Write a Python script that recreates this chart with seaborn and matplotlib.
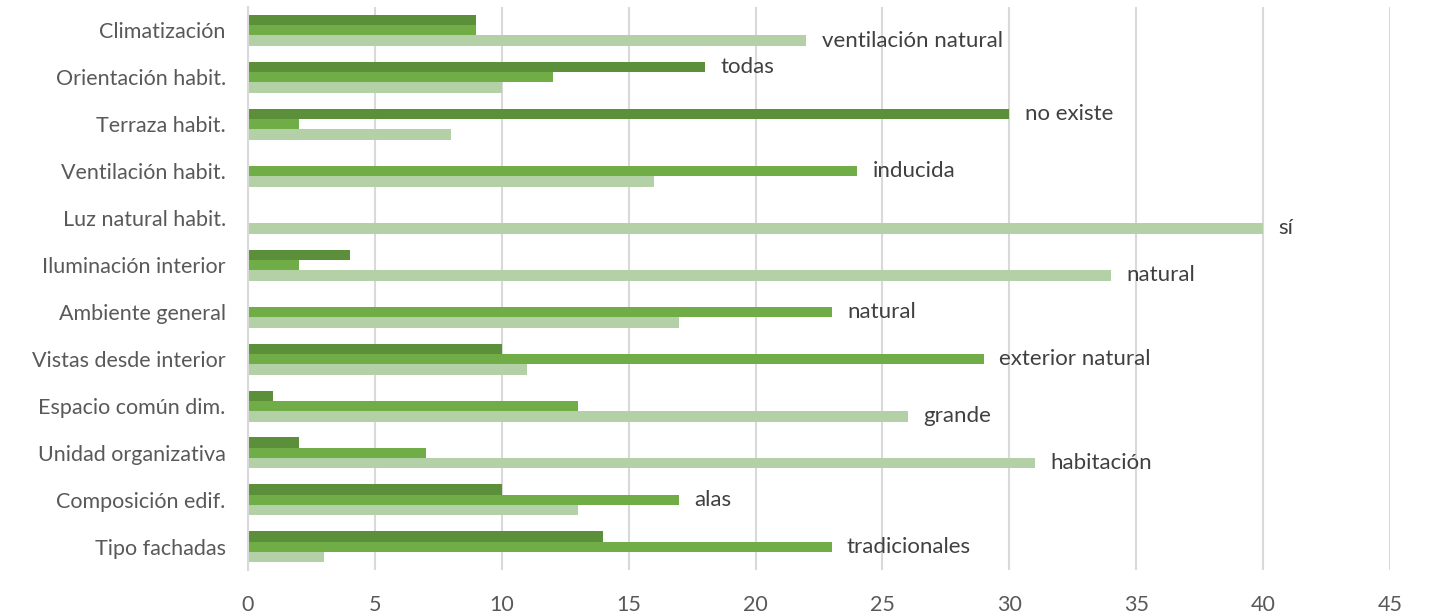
import pandas as pd
import seaborn as sns
import matplotlib.pyplot as plt

# categories, top to bottom
categories = [
    "Climatización", "Orientación habit.", "Terraza habit.", "Ventilación habit.",
    "Luz natural habit.", "Iluminación interior", "Ambiente general",
    "Vistas desde interior", "Espacio común dim.", "Unidad organizativa",
    "Composición edif.", "Tipo fachadas",
]
series_a = [9, 18, 30, 0, 0, 4, 0, 10, 1, 2, 10, 14]
series_b = [9, 12, 2, 24, 0, 2, 23, 29, 13, 7, 17, 23]
series_c = [22, 10, 8, 16, 40, 34, 17, 11, 26, 31, 13, 3]
top_labels = [
    "ventilación natural", "todas", "no existe", "inducida", "sí", "natural",
    "natural", "exterior natural", "grande", "habitación", "alas", "tradicionales",
]
series_names = ["a", "b", "c"]
colors = ["#5b8f3a", "#70ad47", "#b4d0a6"]

df = pd.DataFrame({
    "cat": categories * 3,
    "serie": sum([[s] * len(categories) for s in series_names], []),
    "valor": series_a + series_b + series_c,
})

sns.set_style("white")
plt.rcParams["font.family"] = ["Lato", "DejaVu Sans"]

fig = plt.figure(figsize=(14.36, 6.16), dpi=100)
ax = fig.add_axes([0.1727, 0.074, 0.7953, 0.915])

sns.barplot(data=df, y="cat", x="valor", hue="serie", order=categories,
            hue_order=series_names, palette=colors, orient="h", width=0.66,
            saturation=1, linewidth=0, legend=False, ax=ax)

ax.set_xlim(0, 45)
ax.set_ylim(11.5, -0.5)
ax.set_xticks(range(0, 46, 5))
ax.grid(axis="x", color="#d9d9d9", linewidth=1.5)
ax.set_axisbelow(True)
for s in ["top", "right", "bottom"]:
    ax.spines[s].set_visible(False)
ax.spines["left"].set_color("#d9d9d9")
ax.spines["left"].set_linewidth(1.5)
ax.set_xlabel("")
ax.set_ylabel("")
ax.tick_params(axis="both", length=0, colors="#595959", labelsize=15.5)
ax.tick_params(axis="x", pad=18)
ax.tick_params(axis="y", pad=16)

# label at the end of the longest bar of each group
offsets = [-0.22, 0.0, 0.22]
for i, lab in enumerate(top_labels):
    vals = [series_a[i], series_b[i], series_c[i]]
    k = max(range(3), key=lambda j: vals[j])
    ax.text(vals[k] + 0.6, i + offsets[k], lab, va="center", ha="left",
            fontsize=16, color="#404040")

fig.savefig("out.png", dpi=100)
